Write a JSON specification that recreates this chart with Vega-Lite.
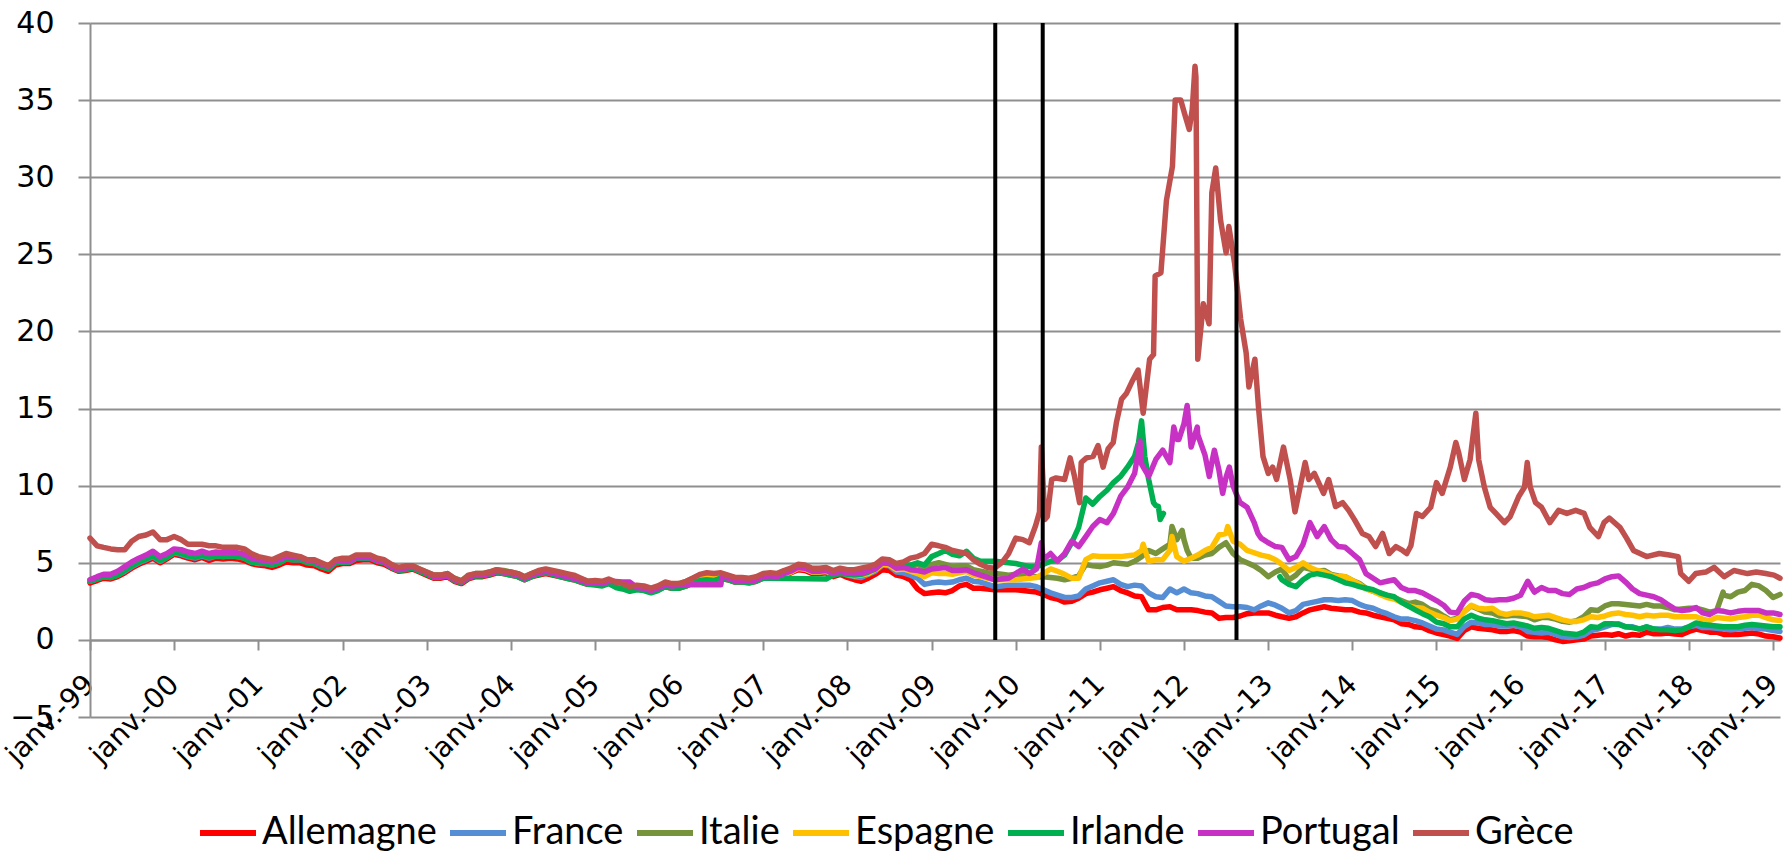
{
"$schema":"https://vega.github.io/schema/vega-lite/v6.json",
"width":1690,"height":694,
"autosize":{"type":"none"},
"padding":{"left":90,"top":23,"right":10,"bottom":136},
"background":"white",
"config":{"view":{"stroke":null}},
"datasets":{
"m":[
{"d":"1999-01","A":3.70,"F":3.80,"I":3.90,"E":3.85,"R":3.80,"P":3.90,"G":6.60},
{"d":"1999-02","A":3.85,"F":3.95,"I":4.05,"E":4.00,"R":3.95,"P":4.10,"G":6.10},
{"d":"1999-03","A":4.00,"F":4.10,"I":4.20,"E":4.15,"R":4.10,"P":4.25,"G":6.00},
{"d":"1999-04","A":3.95,"F":4.05,"I":4.15,"E":4.10,"R":4.05,"P":4.25,"G":5.90},
{"d":"1999-05","A":4.10,"F":4.20,"I":4.30,"E":4.25,"R":4.20,"P":4.45,"G":5.85},
{"d":"1999-06","A":4.35,"F":4.45,"I":4.60,"E":4.55,"R":4.50,"P":4.75,"G":5.85},
{"d":"1999-07","A":4.65,"F":4.75,"I":4.90,"E":4.85,"R":4.80,"P":5.05,"G":6.40},
{"d":"1999-08","A":4.90,"F":5.00,"I":5.15,"E":5.10,"R":5.05,"P":5.30,"G":6.70},
{"d":"1999-09","A":5.10,"F":5.20,"I":5.35,"E":5.30,"R":5.25,"P":5.50,"G":6.80},
{"d":"1999-10","A":5.30,"F":5.40,"I":5.55,"E":5.50,"R":5.45,"P":5.75,"G":7.00},
{"d":"1999-11","A":5.00,"F":5.10,"I":5.25,"E":5.20,"R":5.15,"P":5.40,"G":6.50},
{"d":"1999-12","A":5.25,"F":5.35,"I":5.45,"E":5.40,"R":5.35,"P":5.60,"G":6.50},
{"d":"2000-01","A":5.55,"F":5.65,"I":5.80,"E":5.75,"R":5.70,"P":5.90,"G":6.70},
{"d":"2000-02","A":5.45,"F":5.55,"I":5.75,"E":5.65,"R":5.60,"P":5.85,"G":6.50},
{"d":"2000-03","A":5.30,"F":5.40,"I":5.60,"E":5.50,"R":5.45,"P":5.70,"G":6.20},
{"d":"2000-04","A":5.20,"F":5.30,"I":5.50,"E":5.40,"R":5.35,"P":5.60,"G":6.20},
{"d":"2000-05","A":5.35,"F":5.45,"I":5.65,"E":5.55,"R":5.50,"P":5.75,"G":6.20},
{"d":"2000-06","A":5.15,"F":5.30,"I":5.45,"E":5.40,"R":5.35,"P":5.60,"G":6.10},
{"d":"2000-07","A":5.30,"F":5.45,"I":5.60,"E":5.50,"R":5.45,"P":5.70,"G":6.10},
{"d":"2000-08","A":5.25,"F":5.40,"I":5.55,"E":5.45,"R":5.40,"P":5.65,"G":6.00},
{"d":"2000-09","A":5.30,"F":5.45,"I":5.60,"E":5.50,"R":5.45,"P":5.70,"G":6.00},
{"d":"2000-10","A":5.25,"F":5.40,"I":5.55,"E":5.45,"R":5.40,"P":5.65,"G":6.00},
{"d":"2000-11","A":5.15,"F":5.30,"I":5.45,"E":5.35,"R":5.30,"P":5.55,"G":5.90},
{"d":"2000-12","A":4.95,"F":5.05,"I":5.25,"E":5.15,"R":5.05,"P":5.30,"G":5.60},
{"d":"2001-01","A":4.85,"F":4.95,"I":5.15,"E":5.05,"R":5.00,"P":5.20,"G":5.40},
{"d":"2001-02","A":4.80,"F":4.95,"I":5.15,"E":5.05,"R":4.95,"P":5.15,"G":5.30},
{"d":"2001-03","A":4.70,"F":4.85,"I":5.05,"E":4.95,"R":4.85,"P":5.05,"G":5.20},
{"d":"2001-04","A":4.85,"F":5.00,"I":5.20,"E":5.10,"R":5.00,"P":5.20,"G":5.40},
{"d":"2001-05","A":5.05,"F":5.25,"I":5.40,"E":5.35,"R":5.25,"P":5.40,"G":5.60},
{"d":"2001-06","A":5.00,"F":5.20,"I":5.35,"E":5.30,"R":5.20,"P":5.35,"G":5.50},
{"d":"2001-07","A":5.00,"F":5.20,"I":5.35,"E":5.30,"R":5.20,"P":5.35,"G":5.40},
{"d":"2001-08","A":4.85,"F":5.05,"I":5.15,"E":5.10,"R":5.00,"P":5.15,"G":5.20},
{"d":"2001-09","A":4.80,"F":4.95,"I":5.10,"E":5.05,"R":4.95,"P":5.10,"G":5.20},
{"d":"2001-10","A":4.60,"F":4.75,"I":4.90,"E":4.85,"R":4.75,"P":4.90,"G":5.00},
{"d":"2001-11","A":4.45,"F":4.60,"I":4.75,"E":4.70,"R":4.60,"P":4.75,"G":4.80},
{"d":"2001-12","A":4.85,"F":5.00,"I":5.15,"E":5.05,"R":5.00,"P":5.10,"G":5.20},
{"d":"2002-01","A":4.95,"F":5.05,"I":5.15,"E":5.10,"R":5.05,"P":5.10,"G":5.30},
{"d":"2002-02","A":4.95,"F":5.05,"I":5.15,"E":5.10,"R":5.05,"P":5.10,"G":5.30},
{"d":"2002-03","A":5.15,"F":5.30,"I":5.40,"E":5.35,"R":5.30,"P":5.35,"G":5.50},
{"d":"2002-04","A":5.20,"F":5.35,"I":5.40,"E":5.35,"R":5.30,"P":5.35,"G":5.50},
{"d":"2002-05","A":5.20,"F":5.35,"I":5.40,"E":5.35,"R":5.30,"P":5.35,"G":5.50},
{"d":"2002-06","A":5.00,"F":5.15,"I":5.20,"E":5.15,"R":5.10,"P":5.15,"G":5.30},
{"d":"2002-07","A":4.90,"F":5.05,"I":5.10,"E":5.05,"R":5.00,"P":5.05,"G":5.20},
{"d":"2002-08","A":4.65,"F":4.75,"I":4.85,"E":4.75,"R":4.70,"P":4.75,"G":4.90},
{"d":"2002-09","A":4.45,"F":4.55,"I":4.65,"E":4.55,"R":4.50,"P":4.55,"G":4.70},
{"d":"2002-10","A":4.50,"F":4.65,"I":4.70,"E":4.60,"R":4.55,"P":4.65,"G":4.80},
{"d":"2002-11","A":4.60,"F":4.70,"I":4.80,"E":4.70,"R":4.65,"P":4.75,"G":4.80},
{"d":"2002-12","A":4.40,"F":4.50,"I":4.60,"E":4.50,"R":4.45,"P":4.55,"G":4.60},
{"d":"2003-01","A":4.20,"F":4.30,"I":4.40,"E":4.30,"R":4.25,"P":4.35,"G":4.40},
{"d":"2003-02","A":4.00,"F":4.10,"I":4.20,"E":4.10,"R":4.05,"P":4.10,"G":4.20},
{"d":"2003-03","A":4.00,"F":4.10,"I":4.20,"E":4.10,"R":4.05,"P":4.10,"G":4.20},
{"d":"2003-04","A":4.10,"F":4.20,"I":4.30,"E":4.20,"R":4.15,"P":4.20,"G":4.30},
{"d":"2003-05","A":3.80,"F":3.90,"I":4.00,"E":3.90,"R":3.85,"P":3.90,"G":4.00},
{"d":"2003-06","A":3.65,"F":3.75,"I":3.85,"E":3.75,"R":3.70,"P":3.75,"G":3.80},
{"d":"2003-07","A":3.95,"F":4.05,"I":4.15,"E":4.05,"R":4.00,"P":4.05,"G":4.20},
{"d":"2003-08","A":4.10,"F":4.20,"I":4.30,"E":4.20,"R":4.15,"P":4.20,"G":4.30},
{"d":"2003-09","A":4.10,"F":4.20,"I":4.30,"E":4.20,"R":4.15,"P":4.20,"G":4.30},
{"d":"2003-10","A":4.20,"F":4.30,"I":4.40,"E":4.30,"R":4.25,"P":4.30,"G":4.40},
{"d":"2003-11","A":4.35,"F":4.45,"I":4.55,"E":4.45,"R":4.40,"P":4.45,"G":4.55},
{"d":"2003-12","A":4.30,"F":4.40,"I":4.50,"E":4.35,"R":4.30,"P":4.40,"G":4.45},
{"d":"2004-01","A":4.20,"F":4.30,"I":4.40,"E":4.25,"R":4.20,"P":4.30,"G":4.40},
{"d":"2004-02","A":4.10,"F":4.20,"I":4.30,"E":4.15,"R":4.10,"P":4.20,"G":4.30},
{"d":"2004-03","A":3.90,"F":4.00,"I":4.10,"E":3.95,"R":3.90,"P":4.00,"G":4.10},
{"d":"2004-04","A":4.10,"F":4.20,"I":4.30,"E":4.15,"R":4.10,"P":4.20,"G":4.30},
{"d":"2004-05","A":4.20,"F":4.35,"I":4.45,"E":4.30,"R":4.25,"P":4.35,"G":4.50},
{"d":"2004-06","A":4.30,"F":4.45,"I":4.55,"E":4.40,"R":4.35,"P":4.45,"G":4.60},
{"d":"2004-07","A":4.20,"F":4.35,"I":4.45,"E":4.30,"R":4.25,"P":4.35,"G":4.50},
{"d":"2004-08","A":4.10,"F":4.20,"I":4.30,"E":4.15,"R":4.10,"P":4.20,"G":4.40},
{"d":"2004-09","A":4.00,"F":4.10,"I":4.20,"E":4.05,"R":4.00,"P":4.10,"G":4.30},
{"d":"2004-10","A":3.90,"F":4.00,"I":4.10,"E":3.95,"R":3.90,"P":4.00,"G":4.20},
{"d":"2004-11","A":3.75,"F":3.85,"I":3.95,"E":3.80,"R":3.75,"P":3.85,"G":4.00},
{"d":"2004-12","A":3.60,"F":3.70,"I":3.80,"E":3.65,"R":3.60,"P":3.70,"G":3.80},
{"d":"2005-01","A":3.60,"F":3.65,"I":3.80,"E":3.65,"R":3.55,"P":3.70,"G":3.85},
{"d":"2005-02","A":3.55,"F":3.60,"I":3.75,"E":3.55,"R":3.50,"P":3.65,"G":3.80},
{"d":"2005-03","A":3.70,"F":3.75,"I":3.90,"E":3.70,"R":3.65,"P":3.80,"G":3.95},
{"d":"2005-04","A":3.45,"F":3.50,"I":3.70,"E":3.50,"R":3.40,"P":3.78,"G":3.75},
{"d":"2005-05","A":3.35,"F":3.40,"I":3.55,"E":3.40,"R":3.30,"P":3.76,"G":3.65},
{"d":"2005-06","A":3.20,"F":3.25,"I":3.40,"E":3.20,"R":3.15,"P":3.75,"G":3.45},
{"d":"2005-07","A":3.30,"F":3.35,"I":3.50,"E":3.30,"R":3.25,"P":3.40,"G":3.55},
{"d":"2005-08","A":3.25,"F":3.30,"I":3.45,"E":3.25,"R":3.20,"P":3.35,"G":3.50},
{"d":"2005-09","A":3.10,"F":3.15,"I":3.30,"E":3.10,"R":3.05,"P":3.20,"G":3.35},
{"d":"2005-10","A":3.25,"F":3.30,"I":3.45,"E":3.25,"R":3.20,"P":3.35,"G":3.50},
{"d":"2005-11","A":3.45,"F":3.55,"I":3.70,"E":3.50,"R":3.45,"P":3.55,"G":3.75},
{"d":"2005-12","A":3.35,"F":3.45,"I":3.60,"E":3.40,"R":3.35,"P":3.50,"G":3.65},
{"d":"2006-01","A":3.35,"F":3.40,"I":3.65,"E":3.40,"R":3.35,"P":3.55,"G":3.65},
{"d":"2006-02","A":3.50,"F":3.55,"I":3.80,"E":3.55,"R":3.50,"P":3.57,"G":3.80},
{"d":"2006-03","A":3.70,"F":3.75,"I":4.00,"E":3.75,"R":3.70,"P":3.57,"G":4.00},
{"d":"2006-04","A":3.90,"F":3.95,"I":4.20,"E":3.95,"R":3.85,"P":3.57,"G":4.25},
{"d":"2006-05","A":4.00,"F":4.05,"I":4.30,"E":4.05,"R":3.90,"P":3.57,"G":4.35},
{"d":"2006-06","A":3.95,"F":4.05,"I":4.25,"E":4.00,"R":3.85,"P":3.57,"G":4.30},
{"d":"2006-07","A":4.00,"F":4.10,"I":4.30,"E":4.05,"R":4.00,"P":3.57,"G":4.35},
{"d":"2006-08","A":3.90,"F":3.95,"I":4.15,"E":3.95,"R":3.90,"P":4.00,"G":4.20},
{"d":"2006-09","A":3.75,"F":3.80,"I":4.00,"E":3.80,"R":3.75,"P":3.85,"G":4.05},
{"d":"2006-10","A":3.75,"F":3.80,"I":4.00,"E":3.80,"R":3.75,"P":3.85,"G":4.05},
{"d":"2006-11","A":3.70,"F":3.75,"I":3.95,"E":3.75,"R":3.70,"P":3.80,"G":4.00},
{"d":"2006-12","A":3.80,"F":3.85,"I":4.05,"E":3.85,"R":3.80,"P":3.90,"G":4.10},
{"d":"2007-01","A":4.00,"F":4.05,"I":4.25,"E":4.05,"R":4.00,"P":4.10,"G":4.30},
{"d":"2007-02","A":4.05,"F":4.10,"I":4.30,"E":4.10,"R":4.00,"P":4.15,"G":4.35},
{"d":"2007-03","A":4.00,"F":4.05,"I":4.25,"E":4.05,"P":4.10,"G":4.30},
{"d":"2007-04","A":4.20,"F":4.25,"I":4.45,"E":4.25,"P":4.30,"G":4.50},
{"d":"2007-05","A":4.35,"F":4.40,"I":4.60,"E":4.40,"P":4.45,"G":4.65},
{"d":"2007-06","A":4.55,"F":4.65,"I":4.85,"E":4.65,"P":4.70,"G":4.90},
{"d":"2007-07","A":4.50,"F":4.60,"I":4.80,"E":4.60,"P":4.65,"G":4.85},
{"d":"2007-08","A":4.30,"F":4.40,"I":4.60,"E":4.40,"P":4.45,"G":4.65},
{"d":"2007-09","A":4.30,"F":4.40,"I":4.60,"E":4.40,"P":4.45,"G":4.65},
{"d":"2007-10","A":4.35,"F":4.45,"I":4.65,"E":4.45,"R":3.95,"P":4.50,"G":4.70},
{"d":"2007-11","A":4.10,"F":4.20,"I":4.45,"E":4.25,"R":4.20,"P":4.30,"G":4.50},
{"d":"2007-12","A":4.25,"F":4.40,"I":4.60,"E":4.40,"R":4.30,"P":4.45,"G":4.65},
{"d":"2008-01","A":4.05,"F":4.20,"I":4.45,"E":4.25,"R":4.25,"P":4.35,"G":4.55},
{"d":"2008-02","A":3.90,"F":4.10,"I":4.40,"E":4.15,"R":4.20,"P":4.30,"G":4.55},
{"d":"2008-03","A":3.80,"F":4.05,"I":4.45,"E":4.20,"R":4.25,"P":4.35,"G":4.65},
{"d":"2008-04","A":4.00,"F":4.25,"I":4.55,"E":4.30,"R":4.40,"P":4.45,"G":4.75},
{"d":"2008-05","A":4.25,"F":4.45,"I":4.75,"E":4.55,"R":4.60,"P":4.60,"G":4.90},
{"d":"2008-06","A":4.55,"F":4.85,"I":5.10,"E":4.90,"R":5.00,"P":5.00,"G":5.25},
{"d":"2008-07","A":4.50,"F":4.80,"I":5.05,"E":4.85,"R":4.95,"P":4.95,"G":5.20},
{"d":"2008-08","A":4.20,"F":4.40,"I":4.75,"E":4.55,"R":4.75,"P":4.65,"G":4.95},
{"d":"2008-09","A":4.10,"F":4.35,"I":4.80,"E":4.60,"R":4.85,"P":4.70,"G":5.05},
{"d":"2008-10","A":3.90,"F":4.20,"I":4.75,"E":4.45,"R":4.85,"P":4.55,"G":5.30},
{"d":"2008-11","A":3.30,"F":4.00,"I":4.90,"E":4.30,"R":5.00,"P":4.50,"G":5.40},
{"d":"2008-12","A":3.00,"F":3.60,"I":4.65,"E":4.10,"R":4.85,"P":4.40,"G":5.60},
{"d":"2009-01","A":3.05,"F":3.70,"I":4.90,"E":4.35,"R":5.40,"P":4.60,"G":6.20},
{"d":"2009-02","A":3.10,"F":3.75,"I":5.00,"E":4.30,"R":5.60,"P":4.65,"G":6.10},
{"d":"2009-03","A":3.05,"F":3.70,"I":4.90,"E":4.30,"R":5.80,"P":4.70,"G":6.00},
{"d":"2009-04","A":3.20,"F":3.75,"I":4.75,"E":4.25,"R":5.55,"P":4.50,"G":5.80},
{"d":"2009-05","A":3.50,"F":3.90,"I":4.80,"E":4.35,"R":5.45,"P":4.50,"G":5.70},
{"d":"2009-06","A":3.60,"F":4.00,"I":4.80,"E":4.45,"R":5.75,"P":4.55,"G":5.60},
{"d":"2009-07","A":3.35,"F":3.80,"I":4.55,"E":4.20,"R":5.30,"P":4.35,"G":5.20},
{"d":"2009-08","A":3.35,"F":3.75,"I":4.45,"E":4.10,"R":5.10,"P":4.20,"G":4.90},
{"d":"2009-09","A":3.30,"F":3.60,"I":4.35,"E":4.00,"R":5.10,"P":4.05,"G":4.70},
{"d":"2009-10","A":3.25,"F":3.45,"I":4.30,"E":3.90,"R":5.10,"P":3.90,"G":4.65},
{"d":"2009-11","A":3.25,"F":3.50,"I":4.25,"E":3.90,"R":5.05,"P":3.95,"G":5.00},
{"d":"2009-12","A":3.25,"F":3.55,"I":4.20,"E":3.90,"R":5.00,"P":4.00,"G":5.60},
{"d":"2010-01","A":3.25,"F":3.55,"I":4.25,"E":3.90,"R":4.95,"P":4.30,"G":6.60},
{"d":"2010-02","A":3.20,"F":3.55,"I":4.20,"E":3.95,"R":4.85,"P":4.60,"G":6.50},
{"d":"2010-03","A":3.15,"F":3.55,"I":4.10,"E":4.00,"R":4.75,"P":4.30,"G":6.30},
{"d":"2010-04","A":3.10,"F":3.45,"I":4.10,"E":4.05,"R":4.75,"P":4.60},
{"d":"2010-05","A":2.95,"F":3.25,"I":4.10,"E":4.30,"R":4.90,"P":5.20},
{"d":"2010-06","A":2.75,"F":3.05,"I":4.05,"E":4.60,"R":5.10,"P":5.60},
{"d":"2010-07","A":2.65,"F":2.90,"I":4.00,"E":4.45,"R":5.15,"P":5.10},
{"d":"2010-08","A":2.45,"F":2.75,"I":3.90,"E":4.25,"R":5.50,"P":5.60},
{"d":"2010-09","A":2.50,"F":2.75,"I":4.00,"E":4.00,"R":6.30,"P":6.40},
{"d":"2010-10","A":2.70,"F":2.85,"I":4.15,"E":4.00,"R":7.30,"P":6.05},
{"d":"2010-11","A":3.00,"F":3.30,"I":4.90,"E":5.20,"R":9.20,"P":6.70},
{"d":"2010-12","A":3.10,"F":3.50,"I":4.80,"E":5.45,"R":8.80,"P":7.35},
{"d":"2011-01","A":3.25,"F":3.70,"I":4.75,"E":5.40,"R":9.30,"P":7.80},
{"d":"2011-02","A":3.35,"F":3.80,"I":4.85,"E":5.40,"R":9.70,"P":7.60},
{"d":"2011-03","A":3.45,"F":3.90,"I":5.00,"E":5.40,"R":10.20,"P":8.20},
{"d":"2011-04","A":3.20,"F":3.60,"I":4.95,"E":5.40,"R":10.60,"P":9.30},
{"d":"2011-05","A":3.05,"F":3.45,"I":4.90,"E":5.45,"R":11.20,"P":9.90},
{"d":"2011-06","A":2.85,"F":3.55,"I":5.10,"E":5.50,"R":11.90,"P":10.80},
{"d":"2011-07","A":2.80,"F":3.50,"I":5.40,"E":5.80,"R":14.20,"P":11.40},
{"d":"2011-08","A":1.95,"F":3.05,"I":5.80,"E":5.10,"R":10.40,"P":10.60},
{"d":"2011-09","A":1.95,"F":2.80,"I":5.60,"E":5.20,"R":8.70,"P":11.70},
{"d":"2011-10","A":2.10,"F":2.75,"I":5.90,"E":5.20,"P":12.30},
{"d":"2011-11","A":2.15,"F":3.30,"I":6.20,"E":5.80,"P":11.50},
{"d":"2011-12","A":1.95,"F":3.05,"I":6.50,"E":5.40,"P":13.00},
{"d":"2012-01","A":1.95,"F":3.30,"I":6.50,"E":5.10,"P":14.00},
{"d":"2012-02","A":1.95,"F":3.05,"I":5.30,"E":5.30,"P":12.50},
{"d":"2012-03","A":1.90,"F":3.00,"I":5.30,"E":5.50,"P":13.30},
{"d":"2012-04","A":1.80,"F":2.85,"I":5.50,"E":5.80,"P":12.00},
{"d":"2012-05","A":1.75,"F":2.80,"I":5.60,"E":6.00,"P":11.50},
{"d":"2012-06","A":1.40,"F":2.50,"I":6.00,"E":6.80,"P":11.00},
{"d":"2012-07","A":1.45,"F":2.20,"I":6.30,"E":6.90,"P":10.50},
{"d":"2012-08","A":1.45,"F":2.15,"I":5.60,"E":6.40,"P":10.00},
{"d":"2012-09","A":1.55,"F":2.15,"I":5.20,"E":6.20,"P":8.90},
{"d":"2012-10","A":1.70,"F":2.10,"I":5.00,"E":5.80,"P":8.60},
{"d":"2012-11","A":1.75,"F":1.95,"I":4.80,"E":5.65,"P":7.60},
{"d":"2012-12","A":1.75,"F":2.20,"I":4.50,"E":5.50,"P":6.60},
{"d":"2013-01","A":1.75,"F":2.40,"I":4.10,"E":5.40,"P":6.30},
{"d":"2013-02","A":1.60,"F":2.25,"I":4.40,"E":5.20,"P":6.05},
{"d":"2013-03","A":1.50,"F":2.05,"I":4.60,"E":4.90,"P":6.00},
{"d":"2013-04","A":1.40,"F":1.75,"I":3.90,"E":4.50,"P":5.20},
{"d":"2013-05","A":1.50,"F":1.90,"I":4.20,"E":4.70,"P":5.40},
{"d":"2013-06","A":1.75,"F":2.30,"I":4.70,"E":5.00,"P":6.20},
{"d":"2013-07","A":1.95,"F":2.40,"I":4.60,"E":4.70,"P":7.60},
{"d":"2013-08","A":2.05,"F":2.50,"I":4.45,"E":4.50,"P":6.70},
{"d":"2013-09","A":2.15,"F":2.60,"I":4.50,"E":4.40,"P":7.35},
{"d":"2013-10","A":2.05,"F":2.60,"I":4.25,"E":4.20,"P":6.50},
{"d":"2013-11","A":2.00,"F":2.55,"I":4.15,"E":4.10,"P":6.05},
{"d":"2013-12","A":1.95,"F":2.60,"I":4.10,"E":4.10,"P":6.00},
{"d":"2014-01","A":1.95,"F":2.55,"I":3.85,"E":3.85,"P":5.60},
{"d":"2014-02","A":1.80,"F":2.30,"I":3.65,"E":3.60,"P":5.20},
{"d":"2014-03","A":1.75,"F":2.15,"I":3.35,"E":3.30,"P":4.30},
{"d":"2014-04","A":1.60,"F":2.05,"I":3.15,"E":3.15,"P":4.00},
{"d":"2014-05","A":1.50,"F":1.85,"I":3.05,"E":2.95,"P":3.70},
{"d":"2014-06","A":1.40,"F":1.70,"I":2.85,"E":2.75,"P":3.80},
{"d":"2014-07","A":1.30,"F":1.50,"I":2.75,"E":2.65,"P":3.90},
{"d":"2014-08","A":1.05,"F":1.35,"I":2.55,"E":2.45,"P":3.40},
{"d":"2014-09","A":1.00,"F":1.35,"I":2.35,"E":2.20,"P":3.20},
{"d":"2014-10","A":0.85,"F":1.25,"I":2.45,"E":2.10,"P":3.20},
{"d":"2014-11","A":0.80,"F":1.10,"I":2.30,"E":2.05,"P":3.05},
{"d":"2014-12","A":0.60,"F":0.90,"I":2.00,"E":1.80,"P":2.80},
{"d":"2015-01","A":0.45,"F":0.70,"I":1.85,"E":1.60,"P":2.55},
{"d":"2015-02","A":0.35,"F":0.65,"I":1.55,"E":1.45,"P":2.25},
{"d":"2015-03","A":0.25,"F":0.50,"I":1.30,"E":1.25,"P":1.80},
{"d":"2015-04","A":0.10,"F":0.35,"I":1.40,"E":1.35,"P":1.75},
{"d":"2015-05","A":0.60,"F":0.85,"I":1.85,"E":1.80,"P":2.50},
{"d":"2015-06","A":0.85,"F":1.15,"I":2.20,"E":2.25,"P":2.95},
{"d":"2015-07","A":0.75,"F":1.10,"I":2.00,"E":2.05,"P":2.85},
{"d":"2015-08","A":0.70,"F":1.00,"I":1.80,"E":2.00,"P":2.60},
{"d":"2015-09","A":0.65,"F":1.00,"I":1.75,"E":2.05,"P":2.55},
{"d":"2015-10","A":0.55,"F":0.90,"I":1.55,"E":1.75,"P":2.60},
{"d":"2015-11","A":0.55,"F":0.90,"I":1.55,"E":1.65,"P":2.60},
{"d":"2015-12","A":0.60,"F":0.95,"I":1.60,"E":1.75,"P":2.70},
{"d":"2016-01","A":0.50,"F":0.85,"I":1.55,"E":1.75,"P":2.90},
{"d":"2016-02","A":0.25,"F":0.55,"I":1.50,"E":1.65,"P":3.80},
{"d":"2016-03","A":0.20,"F":0.50,"I":1.30,"E":1.50,"P":3.10},
{"d":"2016-04","A":0.20,"F":0.45,"I":1.45,"E":1.55,"P":3.40},
{"d":"2016-05","A":0.15,"F":0.50,"I":1.45,"E":1.60,"P":3.20},
{"d":"2016-06","A":0.00,"F":0.35,"I":1.35,"E":1.45,"P":3.20},
{"d":"2016-07","A":-0.10,"F":0.20,"I":1.20,"E":1.30,"P":3.00},
{"d":"2016-08","A":-0.05,"F":0.15,"I":1.15,"E":1.20,"P":2.95},
{"d":"2016-09","A":0.00,"F":0.20,"I":1.25,"E":1.20,"P":3.30},
{"d":"2016-10","A":0.05,"F":0.30,"I":1.50,"E":1.30,"P":3.40},
{"d":"2016-11","A":0.25,"F":0.60,"I":1.95,"E":1.50,"P":3.60},
{"d":"2016-12","A":0.30,"F":0.70,"I":1.90,"E":1.45,"P":3.70},
{"d":"2017-01","A":0.35,"F":0.85,"I":2.20,"E":1.55,"P":3.95},
{"d":"2017-02","A":0.30,"F":1.00,"I":2.35,"E":1.70,"P":4.10},
{"d":"2017-03","A":0.40,"F":1.05,"I":2.35,"E":1.75,"P":4.15},
{"d":"2017-04","A":0.25,"F":0.85,"I":2.30,"E":1.65,"P":3.75},
{"d":"2017-05","A":0.35,"F":0.85,"I":2.25,"E":1.60,"P":3.30},
{"d":"2017-06","A":0.30,"F":0.70,"I":2.20,"E":1.50,"P":3.00},
{"d":"2017-07","A":0.50,"F":0.85,"I":2.30,"E":1.60,"P":2.90},
{"d":"2017-08","A":0.40,"F":0.70,"I":2.20,"E":1.55,"P":2.80},
{"d":"2017-09","A":0.40,"F":0.70,"I":2.20,"E":1.60,"P":2.60},
{"d":"2017-10","A":0.45,"F":0.80,"I":2.10,"E":1.60,"P":2.30},
{"d":"2017-11","A":0.38,"F":0.70,"I":1.95,"E":1.50,"P":2.00},
{"d":"2017-12","A":0.35,"F":0.70,"I":2.00,"E":1.50,"P":1.90},
{"d":"2018-01","A":0.55,"F":0.85,"I":2.05,"E":1.50,"P":1.95},
{"d":"2018-02","A":0.70,"F":0.95,"I":2.05,"E":1.50,"P":2.10},
{"d":"2018-03","A":0.60,"F":0.80,"I":1.95,"E":1.35,"P":1.75},
{"d":"2018-04","A":0.50,"F":0.80,"I":1.80,"E":1.25,"P":1.65},
{"d":"2018-05","A":0.50,"F":0.75,"I":1.90,"E":1.45,"P":1.90},
{"d":"2018-06","A":0.35,"F":0.70,"I":2.90,"E":1.40,"P":1.85},
{"d":"2018-07","A":0.35,"F":0.65,"I":2.80,"E":1.35,"P":1.75},
{"d":"2018-08","A":0.35,"F":0.70,"I":3.10,"E":1.45,"P":1.85},
{"d":"2018-09","A":0.40,"F":0.75,"I":3.20,"E":1.50,"P":1.90},
{"d":"2018-10","A":0.45,"F":0.80,"I":3.60,"E":1.60,"P":1.90},
{"d":"2018-11","A":0.38,"F":0.72,"I":3.50,"E":1.60,"P":1.90},
{"d":"2018-12","A":0.25,"F":0.70,"I":3.20,"E":1.45,"P":1.75},
{"d":"2019-01","A":0.20,"F":0.60,"I":2.75,"E":1.30,"P":1.75},
{"d":"2019-01-31","A":0.12,"F":0.55,"I":2.95,"E":1.25,"P":1.65},
{"d":"2006-07-06","P":4.15},
{"d":"2010-04-22","P":6.3},
{"d":"2011-06-24","P":12.9},
{"d":"2011-11-18","P":13.8},
{"d":"2011-12-10","P":13.0},
{"d":"2012-01-15","P":15.2},
{"d":"2012-02-28","P":13.8},
{"d":"2012-04-20","P":10.6},
{"d":"2012-05-12","P":12.3},
{"d":"2012-06-17","P":9.5},
{"d":"2012-07-16","P":11.2},
{"d":"2012-08-14","P":9.5},
{"d":"2012-11-17","P":6.9},
{"d":"2011-06-18","R":12.8},
{"d":"2011-07-15","R":11.9},
{"d":"2011-08-08","R":9.9},
{"d":"2011-08-22","R":8.9},
{"d":"2011-09-12","R":8.65},
{"d":"2011-09-20","R":7.8},
{"d":"2011-10-04","R":8.2},
{"d":"2011-11-10","I":7.35},
{"d":"2011-12-24","I":7.1},
{"d":"2012-01-15","I":5.8},
{"d":"2018-05-29","I":3.1},
{"d":"2011-07-08","E":6.2},
{"d":"2011-11-10","E":6.7},
{"d":"2012-07-09","E":7.35},
{"d":"2010-03-28","G":7.4},
{"d":"2010-04-14","G":8.3},
{"d":"2010-04-22","G":12.5},
{"d":"2010-05-07","G":7.8},
{"d":"2010-05-18","G":8.0},
{"d":"2010-06-06","G":10.4},
{"d":"2010-06-25","G":10.5},
{"d":"2010-08-01","G":10.4},
{"d":"2010-08-25","G":11.8},
{"d":"2010-09-13","G":10.6},
{"d":"2010-10-05","G":8.9},
{"d":"2010-10-12","G":11.5},
{"d":"2010-11-04","G":11.8},
{"d":"2010-12-03","G":11.9},
{"d":"2010-12-24","G":12.6},
{"d":"2011-01-15","G":11.2},
{"d":"2011-02-06","G":12.4},
{"d":"2011-02-28","G":12.8},
{"d":"2011-03-14","G":14.1},
{"d":"2011-04-05","G":15.6},
{"d":"2011-04-27","G":16.0},
{"d":"2011-05-19","G":16.7},
{"d":"2011-06-16","G":17.5},
{"d":"2011-07-08","G":14.7},
{"d":"2011-08-05","G":18.2},
{"d":"2011-08-22","G":18.5},
{"d":"2011-08-29","G":23.6},
{"d":"2011-09-23","G":23.8},
{"d":"2011-10-17","G":28.5},
{"d":"2011-11-12","G":30.7},
{"d":"2011-11-24","G":35.0},
{"d":"2011-12-18","G":35.0},
{"d":"2012-01-06","G":34.0},
{"d":"2012-01-24","G":33.1},
{"d":"2012-02-06","G":34.4},
{"d":"2012-02-18","G":37.2},
{"d":"2012-02-22","G":36.5},
{"d":"2012-03-01","G":18.2},
{"d":"2012-03-25","G":21.8},
{"d":"2012-04-19","G":20.5},
{"d":"2012-05-01","G":29.0},
{"d":"2012-05-18","G":30.6},
{"d":"2012-06-08","G":27.2},
{"d":"2012-07-02","G":25.1},
{"d":"2012-07-14","G":26.8},
{"d":"2012-08-08","G":24.4},
{"d":"2012-09-03","G":20.8},
{"d":"2012-09-27","G":18.6},
{"d":"2012-10-09","G":16.4},
{"d":"2012-11-04","G":18.2},
{"d":"2012-11-20","G":15.0},
{"d":"2012-12-09","G":11.9},
{"d":"2013-01-01","G":10.8},
{"d":"2013-01-20","G":11.2},
{"d":"2013-02-06","G":10.4},
{"d":"2013-03-08","G":12.5},
{"d":"2013-04-06","G":10.4},
{"d":"2013-04-27","G":8.3},
{"d":"2013-06-10","G":11.5},
{"d":"2013-06-26","G":10.4},
{"d":"2013-07-20","G":10.8},
{"d":"2013-08-29","G":9.5},
{"d":"2013-09-20","G":10.4},
{"d":"2013-10-20","G":8.65},
{"d":"2013-11-20","G":8.9},
{"d":"2013-12-16","G":8.4},
{"d":"2014-01-10","G":7.8},
{"d":"2014-02-13","G":6.9},
{"d":"2014-03-14","G":6.7},
{"d":"2014-04-12","G":6.05},
{"d":"2014-05-12","G":6.9},
{"d":"2014-06-10","G":5.6},
{"d":"2014-07-09","G":6.05},
{"d":"2014-08-07","G":5.8},
{"d":"2014-08-25","G":5.6},
{"d":"2014-09-12","G":6.1},
{"d":"2014-10-06","G":8.2},
{"d":"2014-11-01","G":8.0},
{"d":"2014-12-07","G":8.6},
{"d":"2015-01-01","G":10.2},
{"d":"2015-01-26","G":9.5},
{"d":"2015-03-02","G":11.2},
{"d":"2015-03-26","G":12.8},
{"d":"2015-04-08","G":12.1},
{"d":"2015-05-02","G":10.4},
{"d":"2015-05-27","G":11.7},
{"d":"2015-06-21","G":14.7},
{"d":"2015-07-03","G":11.7},
{"d":"2015-07-28","G":9.9},
{"d":"2015-08-22","G":8.6},
{"d":"2015-09-16","G":8.2},
{"d":"2015-10-23","G":7.6},
{"d":"2015-11-17","G":8.0},
{"d":"2015-12-24","G":9.3},
{"d":"2016-01-18","G":9.9},
{"d":"2016-01-30","G":11.5},
{"d":"2016-02-12","G":9.9},
{"d":"2016-03-06","G":8.9},
{"d":"2016-04-01","G":8.6},
{"d":"2016-05-07","G":7.6},
{"d":"2016-06-14","G":8.4},
{"d":"2016-07-20","G":8.2},
{"d":"2016-08-27","G":8.4},
{"d":"2016-10-03","G":8.2},
{"d":"2016-10-27","G":7.3},
{"d":"2016-12-04","G":6.7},
{"d":"2016-12-28","G":7.6},
{"d":"2017-01-20","G":7.9},
{"d":"2017-03-07","G":7.3},
{"d":"2017-04-05","G":6.6},
{"d":"2017-05-05","G":5.8},
{"d":"2017-07-01","G":5.4},
{"d":"2017-08-25","G":5.6},
{"d":"2017-10-08","G":5.5},
{"d":"2017-11-15","G":5.4},
{"d":"2017-11-26","G":4.3},
{"d":"2017-12-31","G":3.8},
{"d":"2018-01-30","G":4.3},
{"d":"2018-03-15","G":4.4},
{"d":"2018-04-20","G":4.7},
{"d":"2018-06-03","G":4.1},
{"d":"2018-07-15","G":4.5},
{"d":"2018-09-12","G":4.3},
{"d":"2018-10-20","G":4.4},
{"d":"2018-11-30","G":4.3},
{"d":"2019-01-05","G":4.2},
{"d":"2019-01-31","G":4.0}
],
"ie2":[
{"d":"2013-02-20","c":"R","v":4.1},{"d":"2013-03","c":"R","v":3.9},{"d":"2013-04","c":"R","v":3.6},{"d":"2013-05","c":"R","v":3.45},
{"d":"2013-06","c":"R","v":3.9},{"d":"2013-07","c":"R","v":4.2},{"d":"2013-08","c":"R","v":4.3},{"d":"2013-09","c":"R","v":4.2},
{"d":"2013-10","c":"R","v":4.1},{"d":"2013-11","c":"R","v":3.9},{"d":"2013-12","c":"R","v":3.7},{"d":"2014-01","c":"R","v":3.6},
{"d":"2014-02","c":"R","v":3.45},{"d":"2014-03","c":"R","v":3.35},{"d":"2014-04","c":"R","v":3.25},{"d":"2014-05","c":"R","v":3.05},
{"d":"2014-06","c":"R","v":2.9},{"d":"2014-07","c":"R","v":2.8},{"d":"2014-08","c":"R","v":2.45},{"d":"2014-09","c":"R","v":2.2},
{"d":"2014-10","c":"R","v":1.95},{"d":"2014-11","c":"R","v":1.7},{"d":"2014-12","c":"R","v":1.5},{"d":"2015-01","c":"R","v":1.15},
{"d":"2015-02","c":"R","v":1.05},{"d":"2015-03","c":"R","v":0.85},{"d":"2015-04","c":"R","v":0.85},{"d":"2015-05","c":"R","v":1.35},
{"d":"2015-06","c":"R","v":1.6},{"d":"2015-07","c":"R","v":1.4},{"d":"2015-08","c":"R","v":1.3},{"d":"2015-09","c":"R","v":1.25},
{"d":"2015-10","c":"R","v":1.15},{"d":"2015-11","c":"R","v":1.05},{"d":"2015-12","c":"R","v":1.1},{"d":"2016-01","c":"R","v":1.0},
{"d":"2016-02","c":"R","v":0.9},{"d":"2016-03","c":"R","v":0.75},{"d":"2016-04","c":"R","v":0.8},{"d":"2016-05","c":"R","v":0.75},
{"d":"2016-06","c":"R","v":0.6},{"d":"2016-07","c":"R","v":0.45},{"d":"2016-08","c":"R","v":0.4},{"d":"2016-09","c":"R","v":0.35},
{"d":"2016-10","c":"R","v":0.5},{"d":"2016-11","c":"R","v":0.85},{"d":"2016-12","c":"R","v":0.8},{"d":"2017-01","c":"R","v":1.05},
{"d":"2017-02","c":"R","v":1.05},{"d":"2017-03","c":"R","v":1.0},{"d":"2017-04","c":"R","v":0.85},{"d":"2017-05","c":"R","v":0.8},
{"d":"2017-06","c":"R","v":0.7},{"d":"2017-07","c":"R","v":0.85},{"d":"2017-08","c":"R","v":0.7},{"d":"2017-09","c":"R","v":0.65},
{"d":"2017-10","c":"R","v":0.65},{"d":"2017-11","c":"R","v":0.6},{"d":"2017-12","c":"R","v":0.65},{"d":"2018-01","c":"R","v":0.85},
{"d":"2018-02","c":"R","v":1.1},{"d":"2018-03","c":"R","v":1.0},{"d":"2018-04","c":"R","v":0.95},{"d":"2018-05","c":"R","v":0.9},
{"d":"2018-06","c":"R","v":0.85},{"d":"2018-07","c":"R","v":0.85},{"d":"2018-08","c":"R","v":0.85},{"d":"2018-09","c":"R","v":0.95},
{"d":"2018-10","c":"R","v":1.0},{"d":"2018-11","c":"R","v":0.95},{"d":"2018-12","c":"R","v":0.9},{"d":"2019-01","c":"R","v":0.85},
{"d":"2019-01-31","c":"R","v":0.85}
],
"ev":[{"d":"2009-10-04"},{"d":"2010-04-28"},{"d":"2012-08-16"}]
},
"layer":[
{
"data":{"name":"m"},
"transform":[{"fold":["A","F","I","E","R","P","G"],"as":["c","v"]},{"filter":"isValid(datum.v)"}],
"mark":{"type":"line","strokeWidth":5.5,"strokeCap":"round","strokeJoin":"round"},
"encoding":{
"x":{"field":"d","type":"temporal",
 "scale":{"type":"utc","domain":[{"year":1999,"month":1,"date":1,"utc":true},{"year":2019,"month":1,"date":31,"utc":true}],"nice":false},
 "axis":{"orient":"bottom","offset":-77,"grid":false,"domainColor":"#8f8f8f","domainWidth":2,"tickColor":"#8f8f8f","tickWidth":2,"tickSize":10,
  "tickCount":{"interval":"year","step":1},
  "labelExpr":"'janv.-' + utcFormat(datum.value, '%y')",
  "labelAngle":-45,"labelAlign":"right","labelBaseline":"middle","labelPadding":30,
  "labelFont":"DejaVu Sans","labelFontSize":28,"labelColor":"black","labelOverlap":false,"labelFlush":false,"labelBound":false,"title":null}},
"y":{"field":"v","type":"quantitative",
 "scale":{"domain":[-5,40],"nice":false,"zero":false},
 "axis":{"values":[-5,0,5,10,15,20,25,30,35,40],"grid":true,"gridColor":"#8f8f8f","gridWidth":2,"domain":true,"domainColor":"#8f8f8f","domainWidth":2,
  "ticks":true,"tickSize":12,"tickColor":"#8f8f8f","tickWidth":2,"labelFont":"DejaVu Sans","labelFontSize":30,"labelColor":"black","labelPadding":24,"title":null}},
"color":{"field":"c","type":"nominal",
 "scale":{"domain":["A","F","I","E","R","P","G"],"range":["#ff0000","#558ed5","#77933c","#ffc000","#00b050","#c832c4","#c0504d"]},
 "legend":{"orient":"none","legendX":107,"legendY":779,"direction":"horizontal","title":null,"symbolType":"stroke","symbolSize":3136,"symbolStrokeWidth":6,
  "labelFont":"Lato","labelFontSize":38,"labelColor":"black","labelOffset":3,"columnPadding":1,"padding":0,"labelLimit":400,
  "labelExpr":"datum.value == 'A' ? 'Allemagne' : datum.value == 'F' ? 'France' : datum.value == 'I' ? 'Italie' : datum.value == 'E' ? 'Espagne' : datum.value == 'R' ? 'Irlande' : datum.value == 'P' ? 'Portugal' : 'Grèce'"}}
}
},
{
"data":{"name":"ie2"},
"mark":{"type":"line","strokeWidth":5.5,"strokeCap":"round","strokeJoin":"round"},
"encoding":{
"x":{"field":"d","type":"temporal"},
"y":{"field":"v","type":"quantitative"},
"color":{"field":"c","type":"nominal"}
}
},
{
"data":{"name":"ev"},
"mark":{"type":"rule","color":"black","strokeWidth":4},
"encoding":{
"x":{"field":"d","type":"temporal"},
"y":{"datum":0},
"y2":{"datum":40}
}
}
]
}
